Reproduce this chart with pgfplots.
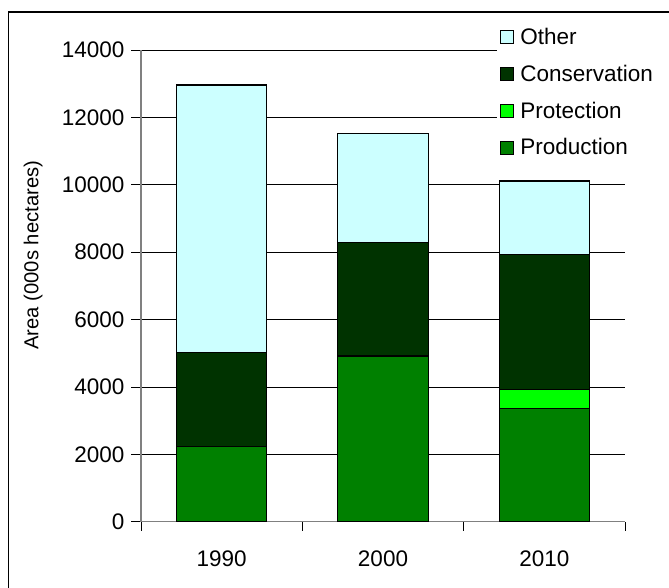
\documentclass[border=0pt]{standalone}
\usepackage{pgfplots}
\pgfplotsset{compat=1.18}
\usepackage{fontspec}
\setmainfont{Liberation Sans}
\definecolor{cOther}{RGB}{204,255,255}
\definecolor{cCons}{RGB}{0,51,0}
\definecolor{cProt}{RGB}{0,255,0}
\definecolor{cProd}{RGB}{0,128,0}
\newcommand{\chartfont}{\fontsize{22.5bp}{26bp}\selectfont}
\newcommand{\labelfont}{\fontsize{20.2bp}{24bp}\selectfont}
\begin{document}
\begin{tikzpicture}[x=1bp,y=1bp]
\useasboundingbox (0,0) rectangle (669,588);
\draw[line width=1.2bp] (8.5,-5) -- (8.5,576) -- (680,576);
\begin{axis}[
  at={(141bp,66.3bp)}, anchor=south west,
  scale only axis, width=484bp, height=471.7bp,
  ybar stacked, bar width=0.56,
  xmin=-0.5, xmax=2.5, ymin=0, ymax=14000,
  xtick={0,1,2}, xticklabels={1990,2000,2010},
  major x tick style={draw=none},
  minor xtick={-0.5,0.5,1.5,2.5},
  ytick={0,2000,4000,6000,8000,10000,12000,14000},
  scaled y ticks=false,
  /pgf/number format/fixed,
  /pgf/number format/1000 sep={},
  /pgf/number format/assume math mode=true,
  ymajorgrids, grid style={black, line width=0.8bp},
  axis x line*=bottom, axis y line*=left,
  axis line style={gray, line width=1.5bp, -},
  tick align=outside, tick style={black, line width=0.8bp},
  major tick length=10bp, minor tick length=9bp,
  every tick label/.append style={font=\chartfont},
  xticklabel style={yshift=-16bp},
  yticklabel style={xshift=-3bp},
  ylabel={Area (000s hectares)},
  ylabel style={font=\labelfont, at={(rel axis cs:-0.223,0.565)}, anchor=center},
  legend style={at={(rel axis cs:0.736,1.055)}, anchor=north west, draw=none, fill=white, font=\chartfont, row sep=15bp},
  legend cell align=left,
  reverse legend,
  legend image code/.code={\draw[#1,draw=black,line width=0.8bp] (0bp,-6.5bp) rectangle (13bp,6.5bp); \path (17bp,0bp);},
  every axis plot/.append style={draw=black, line width=1.2bp},
]
\addplot[fill=cProd] coordinates {(0,2230) (1,4920) (2,3370)};
\addplot[fill=cProt] coordinates {(0,0) (1,0) (2,560)};
\addplot[fill=cCons] coordinates {(0,2800) (1,3370) (2,3995)};
\addplot[fill=cOther] coordinates {(0,7930) (1,3240) (2,2185)};
\legend{Production,Protection,Conservation,Other}
\end{axis}
\end{tikzpicture}
\end{document}
